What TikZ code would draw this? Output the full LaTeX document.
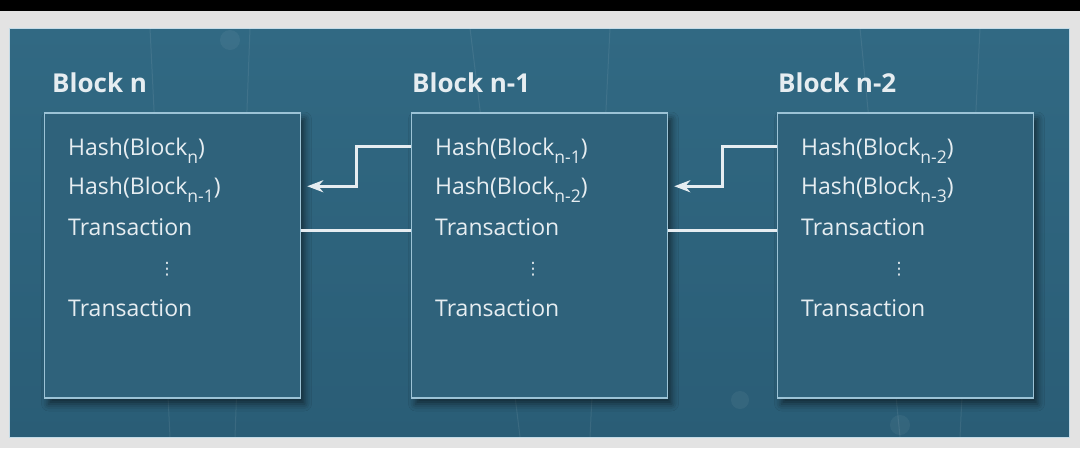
\documentclass[tikz,border=0pt]{standalone}
\usepackage{fontspec}
\setmainfont{Open Sans}
\newfontfamily\dejavu{DejaVu Sans}
\usetikzlibrary{arrows.meta,shadows.blur,calc}
\definecolor{pagegray}{HTML}{E3E3E3}
\definecolor{bgtop}{HTML}{316983}
\definecolor{bgbot}{HTML}{2A5D76}
\definecolor{boxfill}{HTML}{2F627B}
\definecolor{boxedge}{HTML}{9CC3D6}
\definecolor{txt}{HTML}{E6EDF1}
\tikzset{
  blockbox/.style={draw=boxedge, line width=1.5pt, fill=boxfill, minimum width=256pt,
    minimum height=285pt, inner sep=0pt,
    blur shadow={shadow xshift=4pt, shadow yshift=-6pt, shadow blur radius=7pt, shadow opacity=55}},
  title/.style={anchor=base west, inner sep=0pt, text=txt, font=\fontsize{26}{30}\selectfont\bfseries},
  entry/.style={anchor=base west, inner sep=0pt, text=txt, font=\fontsize{23}{27}\selectfont},
  dots/.style={inner sep=0pt, text=txt, font=\dejavu\fontsize{17}{19}\selectfont},
  linkarrow/.style={draw=txt, line width=3pt, -{Stealth[length=16pt,width=12pt,inset=5pt]}},
  linkline/.style={draw=txt, line width=2.5pt},
  streak/.style={draw=white, opacity=0.08, line width=1pt}
}
\newcommand{\sub}[1]{\raisebox{-8pt}{\fontsize{17.5}{20}\selectfont #1}}
\begin{document}
\begin{tikzpicture}[x=1pt,y=-1pt]
\useasboundingbox (0,0) rectangle (1080,448);
\fill[pagegray] (0,0) rectangle (1080,448);
\fill[black] (0,0) rectangle (1080,11);
\shade[top color=bgtop, bottom color=bgbot] (9,28) rectangle (1069,437);
\draw[boxedge!60, line width=0.8pt] (9,28) rectangle (1069,437);
% faint background streaks
\draw[streak] (150,28) -- (170,437);
\draw[streak] (250,28) -- (235,437);
\draw[streak] (470,28) -- (520,437);
\draw[streak] (610,28) -- (590,437);
\draw[streak] (860,28) -- (900,437);
\draw[streak] (980,28) -- (960,437);
\fill[white, opacity=0.05] (230,40) circle (10);
\fill[white, opacity=0.05] (640,120) circle (8);
\fill[white, opacity=0.05] (740,400) circle (9);
\fill[white, opacity=0.05] (900,425) circle (10);

% titles
\node[title] (t1) at (52,92) {Block n};
\node[title] (t2) at (412,92) {Block n-1};
\node[title] (t3) at (778,92) {Block n-2};

% boxes
\node[blockbox] (b1) at (172.5,255.5) {};
\node[blockbox] (b2) at (539.5,255.5) {};
\node[blockbox] (b3) at (905.5,255.5) {};

% box 1 content
\node[entry] (b1h1) at (68,155) {Hash(Block\sub{n})};
\node[entry] (b1h2) at (68,194) {Hash(Block\sub{n-1})};
\node[entry] (b1t1) at (68,235) {Transaction};
\node[dots] (b1d) at (167,269) {⋮};
\node[entry] (b1t2) at (68,316) {Transaction};
% box 2 content
\node[entry] (b2h1) at (435,155) {Hash(Block\sub{n-1})};
\node[entry] (b2h2) at (435,194) {Hash(Block\sub{n-2})};
\node[entry] (b2t1) at (435,235) {Transaction};
\node[dots] (b2d) at (533,269) {⋮};
\node[entry] (b2t2) at (435,316) {Transaction};
% box 3 content
\node[entry] (b3h1) at (801,155) {Hash(Block\sub{n-2})};
\node[entry] (b3h2) at (801,194) {Hash(Block\sub{n-3})};
\node[entry] (b3t1) at (801,235) {Transaction};
\node[dots] (b3d) at (899,269) {⋮};
\node[entry] (b3t2) at (801,316) {Transaction};

% connectors
\draw[linkarrow] ([yshift=-34pt]b2.north west) -- ++(-54,0) |- ([xshift=6pt,yshift=-74pt]b1.north east);
\draw[linkarrow] ([yshift=-34pt]b3.north west) -- ++(-54,0) |- ([xshift=6pt,yshift=-74pt]b2.north east);
\draw[linkline] ([yshift=-118pt]b1.north east) -- ([yshift=-118pt]b2.north west);
\draw[linkline] ([yshift=-118pt]b2.north east) -- ([yshift=-118pt]b3.north west);
\end{tikzpicture}
\end{document}
